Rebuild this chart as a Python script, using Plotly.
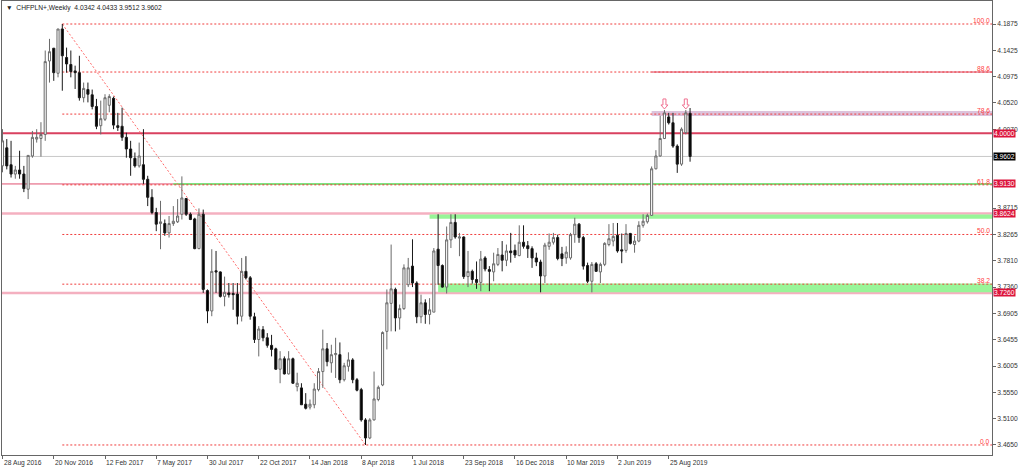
import pandas as pd
import plotly.graph_objects as go

# ---------------- data (CHFPLN weekly candles) ----------------
first_week = "2016-08-28"

opens = [3.944, 3.975, 3.946, 3.930, 3.937, 3.930, 3.904, 3.961, 3.990, 3.991,
         3.998, 4.124, 4.146, 4.103, 4.179, 4.130, 4.118, 4.107, 4.104, 4.061,
         4.075, 4.066, 4.046, 4.013, 4.024, 4.048, 4.060, 4.013, 4.012, 3.993,
         3.973, 3.957, 3.944, 3.946, 3.921, 3.890, 3.864, 3.845, 3.845, 3.829,
         3.845, 3.848, 3.861, 3.888, 3.861, 3.853, 3.802, 3.861, 3.730, 3.695,
         3.764, 3.762, 3.720, 3.726, 3.725, 3.724, 3.686, 3.763, 3.752, 3.685,
         3.646, 3.663, 3.649, 3.636, 3.630, 3.595, 3.613, 3.587, 3.613, 3.565,
         3.563, 3.535, 3.530, 3.534, 3.560, 3.591, 3.630, 3.606, 3.620, 3.620,
         3.577, 3.600, 3.611, 3.577, 3.560, 3.508, 3.477, 3.508, 3.543, 3.568,
         3.660, 3.708, 3.732, 3.683, 3.699, 3.740, 3.772, 3.743, 3.685, 3.709,
         3.689, 3.693, 3.801, 3.773, 3.736, 3.817, 3.847, 3.820, 3.822, 3.754,
         3.763, 3.749, 3.744, 3.786, 3.766, 3.762, 3.775, 3.791, 3.782, 3.798,
         3.799, 3.790, 3.813, 3.807, 3.802, 3.786, 3.779, 3.755, 3.806, 3.813,
         3.821, 3.793, 3.786, 3.786, 3.826, 3.844, 3.821, 3.773, 3.746, 3.776,
         3.762, 3.775, 3.809, 3.815, 3.825, 3.800, 3.799, 3.828, 3.809, 3.815,
         3.842, 3.848, 3.859, 3.939, 3.961, 3.991, 4.028, 4.018, 3.978, 3.947,
         4.001, 4.0342]
highs = [4.007, 3.990, 3.987, 3.944, 3.970, 3.944, 3.962, 4.004, 4.007, 4.019,
         4.142, 4.162, 4.146, 4.179, 4.1875, 4.147, 4.142, 4.116, 4.133, 4.087,
         4.087, 4.075, 4.059, 4.056, 4.067, 4.067, 4.063, 4.035, 4.044, 4.001,
         3.987, 3.967, 3.984, 4.007, 3.927, 3.904, 3.872, 3.884, 3.852, 3.858,
         3.875, 3.887, 3.926, 3.889, 3.864, 3.855, 3.871, 3.869, 3.732, 3.801,
         3.798, 3.763, 3.754, 3.743, 3.743, 3.743, 3.786, 3.789, 3.755, 3.692,
         3.669, 3.669, 3.657, 3.654, 3.632, 3.626, 3.617, 3.626, 3.615, 3.589,
         3.571, 3.554, 3.543, 3.571, 3.597, 3.663, 3.640, 3.637, 3.649, 3.641,
         3.606, 3.624, 3.614, 3.580, 3.563, 3.511, 3.511, 3.591, 3.567, 3.660,
         3.732, 3.809, 3.735, 3.706, 3.775, 3.786, 3.818, 3.746, 3.723, 3.715,
         3.717, 3.803, 3.861, 3.775, 3.840, 3.861, 3.861, 3.829, 3.823, 3.798,
         3.766, 3.780, 3.798, 3.789, 3.772, 3.795, 3.803, 3.815, 3.809, 3.829,
         3.809, 3.842, 3.842, 3.815, 3.806, 3.795, 3.783, 3.812, 3.828, 3.829,
         3.826, 3.805, 3.806, 3.829, 3.855, 3.846, 3.824, 3.778, 3.779, 3.779,
         3.778, 3.813, 3.844, 3.846, 3.846, 3.828, 3.844, 3.829, 3.824, 3.849,
         3.861, 3.862, 3.943, 3.971, 4.030, 4.040, 4.035, 4.035, 3.981, 4.010,
         4.040, 4.0433]
lows = [3.933, 3.938, 3.924, 3.922, 3.922, 3.899, 3.887, 3.958, 3.984, 3.960,
        3.987, 4.087, 4.090, 4.096, 4.073, 4.104, 4.096, 4.076, 4.056, 4.053,
        4.053, 4.041, 4.007, 3.998, 4.021, 4.036, 4.007, 4.004, 3.987, 3.958,
        3.927, 3.941, 3.941, 3.913, 3.875, 3.861, 3.832, 3.801, 3.824, 3.821,
        3.841, 3.846, 3.852, 3.858, 3.851, 3.801, 3.801, 3.726, 3.674, 3.686,
        3.726, 3.718, 3.703, 3.718, 3.697, 3.672, 3.677, 3.749, 3.680, 3.640,
        3.617, 3.643, 3.632, 3.617, 3.594, 3.571, 3.586, 3.586, 3.570, 3.557,
        3.534, 3.526, 3.526, 3.528, 3.557, 3.563, 3.600, 3.589, 3.580, 3.571,
        3.574, 3.591, 3.571, 3.557, 3.505, 3.465, 3.475, 3.507, 3.540, 3.566,
        3.629, 3.660, 3.660, 3.663, 3.697, 3.736, 3.736, 3.674, 3.674, 3.673,
        3.672, 3.693, 3.740, 3.735, 3.725, 3.803, 3.819, 3.789, 3.750, 3.736,
        3.742, 3.733, 3.729, 3.763, 3.729, 3.746, 3.772, 3.763, 3.772, 3.778,
        3.786, 3.789, 3.802, 3.786, 3.769, 3.772, 3.727, 3.743, 3.800, 3.809,
        3.782, 3.772, 3.776, 3.783, 3.812, 3.812, 3.766, 3.743, 3.727, 3.762,
        3.743, 3.772, 3.806, 3.806, 3.795, 3.777, 3.795, 3.809, 3.795, 3.813,
        3.838, 3.845, 3.858, 3.938, 3.960, 3.990, 4.015, 3.975, 3.932, 3.944,
        3.998, 3.9512]
closes = [3.987, 3.944, 3.930, 3.937, 3.930, 3.905, 3.962, 3.993, 3.993, 3.998,
          4.123, 4.140, 4.104, 4.179, 4.133, 4.119, 4.106, 4.104, 4.061, 4.077,
          4.067, 4.046, 4.012, 4.025, 4.061, 4.063, 4.014, 4.010, 3.993, 3.973,
          3.958, 3.944, 3.961, 3.921, 3.890, 3.864, 3.844, 3.848, 3.829, 3.845,
          3.849, 3.858, 3.889, 3.861, 3.852, 3.802, 3.861, 3.732, 3.695, 3.763,
          3.762, 3.720, 3.727, 3.723, 3.723, 3.686, 3.763, 3.752, 3.686, 3.646,
          3.664, 3.649, 3.636, 3.629, 3.595, 3.613, 3.587, 3.613, 3.571, 3.571,
          3.534, 3.528, 3.535, 3.561, 3.591, 3.630, 3.608, 3.620, 3.622, 3.577,
          3.601, 3.611, 3.577, 3.559, 3.508, 3.477, 3.508, 3.544, 3.564, 3.658,
          3.709, 3.733, 3.683, 3.699, 3.769, 3.769, 3.743, 3.685, 3.709, 3.689,
          3.697, 3.798, 3.773, 3.736, 3.817, 3.847, 3.822, 3.822, 3.754, 3.763,
          3.749, 3.744, 3.784, 3.767, 3.763, 3.776, 3.792, 3.782, 3.798, 3.795,
          3.791, 3.813, 3.806, 3.802, 3.786, 3.779, 3.755, 3.808, 3.813, 3.821,
          3.785, 3.785, 3.796, 3.826, 3.844, 3.821, 3.772, 3.746, 3.775, 3.763,
          3.775, 3.811, 3.819, 3.823, 3.798, 3.798, 3.828, 3.811, 3.815, 3.842,
          3.849, 3.859, 3.939, 3.961, 3.991, 4.035, 4.018, 3.978, 3.947, 4.007,
          4.035, 3.9602]

date_labels = ["28 Aug 2016", "20 Nov 2016", "12 Feb 2017", "7 May 2017", "30 Jul 2017",
               "22 Oct 2017", "14 Jan 2018", "8 Apr 2018", "1 Jul 2018", "23 Sep 2018",
               "16 Dec 2018", "10 Mar 2019", "2 Jun 2019", "25 Aug 2019"]

price_ticks = [4.1875, 4.1425, 4.0975, 4.0520, 4.0070, 3.8715, 3.8265,
               3.7810, 3.7360, 3.6905, 3.6455, 3.6005, 3.5550, 3.5100, 3.4650]

fib_names = ["100.0", "88.6", "78.6", "61.8", "50.0", "38.2", "0.0"]
fib_values = [4.1875, 4.1051, 4.0329, 3.9115, 3.8263, 3.7410, 3.4650]
fib_high_week = 14
fib_low_week = 85

round_level = 4.0000
last_price = 3.9602
level_61 = 3.9130
upper_support = 3.8624
lower_support = 3.7260
resistance_zone = (4.0298, 4.0384)
upper_zone = (3.8533, 3.8607)
lower_zone = (3.7271, 3.7420)
arrow_weeks = [155, 160]

# ---------------- figure ----------------
dates = pd.date_range(first_week, periods=len(opens), freq="7D")
tick_dates = pd.to_datetime(date_labels, format="%d %b %Y")
start = pd.Timestamp(first_week)
x_left = start - pd.Timedelta(days=0.12 * 7)
x_right = start + pd.Timedelta(days=231.7 * 7)

FONT = "Liberation Sans, Arial, sans-serif"
FS = 6.7
CRIMSON = "#DC143C"
FIBRED = "#F03C3C"

fig = go.Figure()
fig.add_trace(go.Candlestick(
    x=dates, open=opens, high=highs, low=lows, close=closes,
    increasing=dict(line=dict(color="#6a6a6a", width=1), fillcolor="#FFFFFF"),
    decreasing=dict(line=dict(color="#1a1a1a", width=1), fillcolor="#000000"),
    whiskerwidth=0, hoverinfo="skip", showlegend=False,
))

shapes = []
# zones
shapes.append(dict(type="rect", xref="x", yref="y", x0=dates[152], x1=x_right,
                   y0=resistance_zone[0], y1=resistance_zone[1],
                   fillcolor="#DCC3DC", line=dict(width=0), layer="below"))
shapes.append(dict(type="rect", xref="x", yref="y", x0=dates[100], x1=x_right,
                   y0=upper_zone[0], y1=upper_zone[1],
                   fillcolor="#98F598", line=dict(width=0), layer="below"))
shapes.append(dict(type="rect", xref="x", yref="y", x0=dates[102], x1=x_right,
                   y0=lower_zone[0], y1=lower_zone[1],
                   fillcolor="#98F598", line=dict(width=0), layer="below"))
# horizontal levels
for val, col, w in [(round_level, "#D9415F", 2), (last_price, "#C8C8C8", 1),
                    (level_61, "#E05070", 1), (upper_support, "#F4B0C0", 2.5),
                    (lower_support, "#F4B0C0", 2.5)]:
    shapes.append(dict(type="line", xref="paper", yref="y", x0=0, x1=1, y0=val, y1=val,
                       line=dict(color=col, width=w), layer="below"))
shapes.append(dict(type="line", xref="x", yref="y", x0=dates[40], x1=x_right,
                   y0=level_61, y1=level_61, line=dict(color="#7FE07F", width=2), layer="below"))
shapes.append(dict(type="line", xref="x", yref="y", x0=dates[152], x1=x_right,
                   y0=fib_values[1], y1=fib_values[1], line=dict(color="#D9415F", width=1),
                   layer="below"))
# fibonacci levels
for val in fib_values:
    shapes.append(dict(type="line", xref="x", yref="y", x0=dates[fib_high_week], x1=x_right,
                       y0=val, y1=val, line=dict(color=FIBRED, width=1, dash="2px,2px"),
                       layer="below"))
shapes.append(dict(type="line", xref="x", yref="y", x0=dates[fib_high_week], x1=dates[fib_low_week],
                   y0=fib_values[0], y1=fib_values[-1],
                   line=dict(color="#FF6A6A", width=1, dash="2px,2px"), layer="below"))
# down arrows (pixel-sized, anchored at the candle high)
arrow_path = "M0,1 L-3.5,5 L-1.5,5 L-1.5,11 L1.5,11 L1.5,5 L3.5,5 Z"
for w in arrow_weeks:
    shapes.append(dict(type="path", xref="x", yref="y", xsizemode="pixel", ysizemode="pixel",
                       xanchor=str(dates[w].date()), yanchor=highs[w], path=arrow_path,
                       fillcolor="#FFFFFF", line=dict(color="#F07090", width=1), layer="above"))

annotations = []
annotations.append(dict(xref="paper", yref="paper", x=0.002, y=0.998, xanchor="left", yanchor="top",
                        text="\u25BC  CHFPLN+,Weekly  4.0342 4.0433 3.9512 3.9602", showarrow=False,
                        font=dict(family=FONT, size=FS, color="#222222")))
for name, val in zip(fib_names, fib_values):
    annotations.append(dict(xref="paper", yref="y", x=0.999, y=val, xanchor="right", yanchor="bottom",
                            text=name, showarrow=False, borderpad=0, yshift=-1,
                            font=dict(family=FONT, size=FS, color="#FF4040")))
for val, bg in [(round_level, CRIMSON), (last_price, "#000000"), (level_61, CRIMSON),
                (upper_support, CRIMSON), (lower_support, CRIMSON)]:
    annotations.append(dict(xref="paper", yref="y", x=1, y=val, xanchor="left", yanchor="middle",
                            xshift=1, text=f"{val:.4f}", showarrow=False, bgcolor=bg, borderpad=0,
                            font=dict(family=FONT, size=FS, color="#FFFFFF")))
for d, lab in zip(tick_dates, date_labels):
    annotations.append(dict(xref="x", yref="paper", x=d, y=0, xanchor="left", yanchor="top",
                            yshift=-2, xshift=-1, text=lab, showarrow=False,
                            font=dict(family=FONT, size=FS, color="#333333")))

fig.update_layout(
    width=1024, height=469,
    margin=dict(l=2, r=32, t=1, b=14, autoexpand=False),
    paper_bgcolor="#FFFFFF", plot_bgcolor="#FFFFFF",
    shapes=shapes, annotations=annotations,
    showlegend=False, hovermode=False,
    font=dict(family=FONT, size=FS, color="#333333"),
)
fig.update_xaxes(type="date", range=[x_left, x_right], rangeslider_visible=False,
                 showgrid=False, zeroline=False, showline=True, linecolor="#666666", mirror=True,
                 tickvals=list(tick_dates), showticklabels=False, ticks="outside", ticklen=3,
                 tickcolor="#666666", automargin=False)
fig.update_yaxes(side="right", range=[3.4478, 4.227], showgrid=False, zeroline=False,
                 showline=True, linecolor="#666666", mirror=True,
                 tickvals=price_ticks, ticktext=[f"{v:.4f}" for v in price_ticks],
                 ticks="outside", ticklen=3, tickcolor="#666666", automargin=False,
                 tickfont=dict(family=FONT, size=FS, color="#333333"))

fig.write_html("out.html", config={"displayModeBar": False, "staticPlot": True},
               post_script="document.body.style.margin='0';document.body.style.overflow='hidden';")
